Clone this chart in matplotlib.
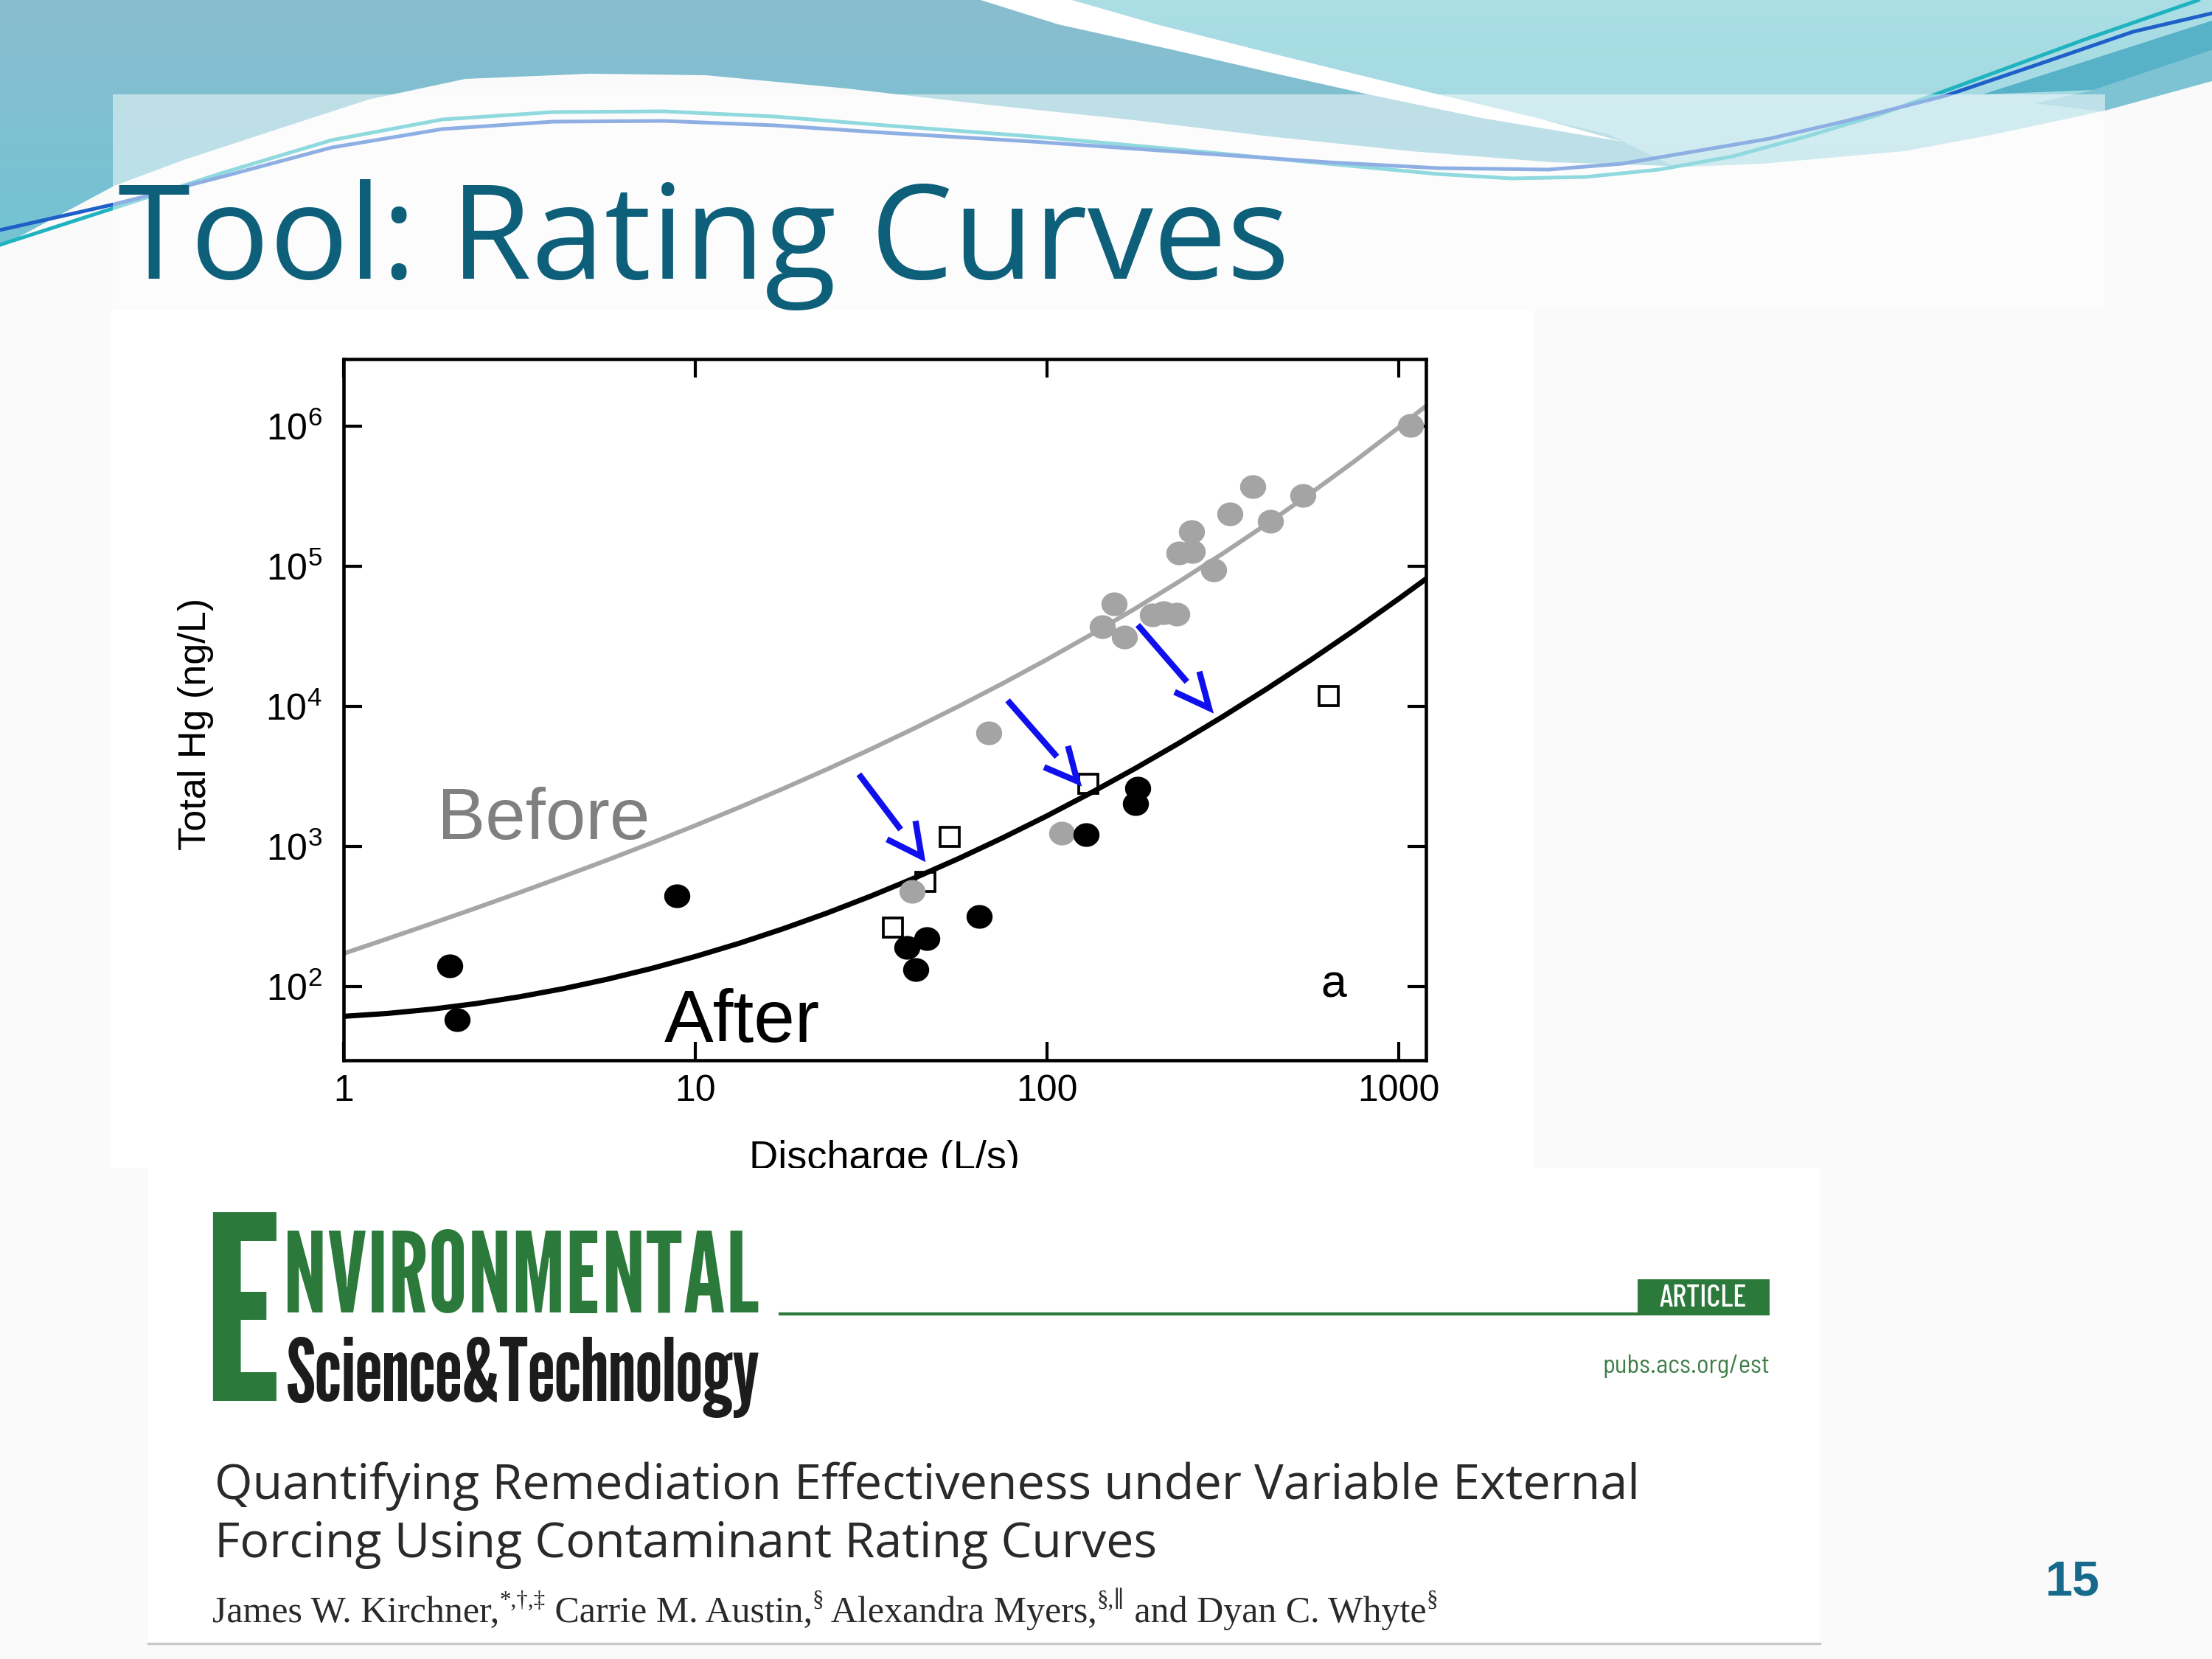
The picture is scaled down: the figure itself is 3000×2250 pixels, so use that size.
import numpy as np
import matplotlib
matplotlib.use("Agg")
import matplotlib.pyplot as plt
from matplotlib import font_manager
from matplotlib.font_manager import FontProperties
from matplotlib.textpath import TextPath
from matplotlib.patches import Polygon, Rectangle
from matplotlib.path import Path
from matplotlib.markers import MarkerStyle
from matplotlib.ticker import NullLocator, FixedLocator
from matplotlib.transforms import Bbox, TransformedBbox

plt.rcParams['font.family'] = ['Liberation Sans', 'DejaVu Sans']
plt.rcParams['mathtext.fontset'] = 'custom'
plt.rcParams['mathtext.rm'] = 'Liberation Sans'
plt.rcParams['mathtext.it'] = 'Liberation Sans:italic'
plt.rcParams['mathtext.bf'] = 'Liberation Sans:bold'

# ---------------- data ----------------
after_Q = [2.0, 2.1, 8.85, 40.0, 45.6, 42.3, 64.1, 129, 181, 179]
after_C = [141, 58, 443, 191, 220, 132, 318, 1217, 2612, 2028]

before_Q = [1080, 385, 535, 332, 433, 258, 237, 259, 298, 155, 144, 166,
            200, 215, 234, 68.4, 110, 41.3]
before_C = [1.02e6, 3.7e5, 3.22e5, 2.38e5, 2.1e5, 1.77e5, 1.25e5, 1.27e5,
            9.45e4, 5.43e4, 3.72e4, 3.12e4, 4.48e4, 4.64e4, 4.58e4, 6490,
            1251, 481]

open_Q = [36.4, 52.8, 45.2, 131, 632]
open_C = [264, 1170, 561, 2820, 11800]

# rating curves
curve_Q = [1, 1.3335, 1.7783, 2.3714, 3.1623, 4.2170, 5.6234, 7.4989, 10,
           13.335, 17.783, 23.714, 31.623, 42.170, 56.234, 74.989, 100,
           133.35, 177.83, 237.14, 316.23, 421.70, 562.34, 749.89, 1000, 1197]
before_curve_C = [172.2, 219.9, 281.8, 362.7, 469.5, 611.2, 801.3, 1059, 1413,
                  1902, 2589, 3564, 4969, 7019, 10058, 14630, 21630, 32520,
                  49770, 77620, 123400, 200400, 332300, 563500, 977700, 1396000]
after_curve_C = [61.38, 64.38, 69.02, 75.58, 84.62, 96.73, 112.96, 134.7, 164.1,
                 203.9, 259.0, 335.4, 443.6, 598.3, 823.2, 1156, 1655, 2417,
                 3599, 5464, 8458, 13340, 21440, 35110, 58580, 81370]

# blue arrows: shaft tail -> shaft end, head arm A -> tip -> arm B
arrow_tail_Q = [29.2, 77.3, 181.3]
arrow_tail_C = [3281, 11060, 38150]
arrow_end_Q = [38.4, 106.8, 250.2]
arrow_end_C = [1323, 4375, 14990]
arrow_armA_Q = [35.1, 98.2, 230.8]
arrow_armA_C = [1126, 3688, 12690]
arrow_tip_Q = [44.0, 122, 289.2]
arrow_tip_C = [847, 2927, 9750]
arrow_armB_Q = [42.3, 114.8, 271.3]
arrow_armB_C = [1524, 5224, 17750]

x_ticks = [1, 10, 100, 1000]
x_tick_labels = ['1', '10', '100', '1000']
y_ticks = [1e2, 1e3, 1e4, 1e5, 1e6]
y_tick_labels = [r'$\mathregular{10^{2}}$', r'$\mathregular{10^{3}}$',
                 r'$\mathregular{10^{4}}$', r'$\mathregular{10^{5}}$',
                 r'$\mathregular{10^{6}}$']

# ---------------- fonts ----------------
avail = {f.name for f in font_manager.fontManager.ttflist}


def pick(*names):
    for n in names:
        if n in avail:
            return [n, 'DejaVu Sans']
    return ['Liberation Sans', 'DejaVu Sans']


cond = pick('Barlow Condensed', 'Asap Condensed', 'Archivo Narrow')
semicond = pick('Barlow Semi Condensed', 'Asap Condensed', 'Archivo Narrow')
gothic = pick('League Gothic', 'Antonio', 'Oswald', 'Bebas Neue')
PX = 300 / 72.0


def ink_box(s, fam, weight='normal'):
    tp = TextPath((0, 0), s, size=100, prop=FontProperties(family=fam, weight=weight))
    return tp.get_extents()


# ---------------- figure ----------------
fig = plt.figure(figsize=(10, 7.5), dpi=300)
fig.patch.set_facecolor('white')
bg = fig.add_axes([0, 0, 1, 1], zorder=0)
bg.axis('off')

bg.add_patch(Rectangle((0, 0), 3000, 2250, color='#fafafa', zorder=0))

# header gradient
H = 470
t = np.linspace(0, 1, H)[:, None, None]
lt = np.array([137, 189, 207]) / 255
lb = np.array([106, 198, 213]) / 255
img = np.repeat(lt * (1 - t) + lb * t, 2, axis=1)
bg.imshow(img, extent=[0, 3000, H, 0], aspect='auto', zorder=1,
          interpolation='bilinear')

# lighter region right of the white swoosh
rt = np.array([171, 222, 229]) / 255
rb = np.array([150, 210, 222]) / 255
img2 = np.repeat(rt * (1 - t) + rb * t, 2, axis=1)
right_poly = Polygon([(1454, 0), (1569, 33), (1703, 67), (1837, 100), (1951, 128),
                      (2085, 160), (2181, 182), (2300, 240), (2300, 470),
                      (3000, 470), (3000, 0)], closed=True, transform=bg.transData)
im2 = bg.imshow(img2, extent=[0, 3000, H, 0], aspect='auto', zorder=2,
                interpolation='bilinear')
im2.set_clip_path(right_poly)

# white swoosh band
bg.add_patch(Polygon([(1330, 0), (1435, 33), (1588, 67), (1731, 100), (1856, 128),
                      (2009, 160), (2200, 192), (2085, 160), (1951, 128),
                      (1837, 100), (1703, 67), (1569, 33), (1454, 0)],
                     closed=True, color='white', lw=0, zorder=3))
# darker wedges at the right edge
bg.add_patch(Polygon([(2689, 128), (3000, 28), (3000, 68), (2840, 122)],
                     closed=True, color='#57b1c7', lw=0, zorder=3))
bg.add_patch(Polygon([(2760, 140), (2840, 122), (3000, 68), (3000, 112),
                      (2855, 152)], closed=True, color='#7dc3d3', lw=0, zorder=3))

# large white shape below header
bg.add_patch(Polygon([(0, 335), (155, 252), (249, 217), (383, 173), (500, 135),
                      (631, 107), (800, 100), (957, 102), (1148, 120), (1339, 142),
                      (1530, 162), (1722, 185), (1913, 205), (2104, 220),
                      (2295, 226), (2391, 222), (2583, 205), (2701, 183),
                      (2855, 150), (3000, 110), (3000, 2250), (0, 2250)],
                     closed=True, color='#fafafa', lw=0, zorder=4))

# ribbon lines
cy = [(0, 332), (155, 282), (300, 235), (450, 190), (600, 162), (750, 152),
      (900, 151), (1050, 158), (1200, 170), (1400, 185), (1600, 203),
      (1800, 222), (1950, 236), (2050, 242), (2150, 240), (2250, 230),
      (2350, 212), (2450, 185), (2550, 155), (2625, 128), (2701, 100),
      (2829, 53), (2982, 0)]
bl = [(0, 312), (155, 277), (300, 240), (450, 200), (600, 175), (750, 165),
      (900, 164), (1050, 170), (1200, 180), (1400, 192), (1600, 206),
      (1800, 220), (1950, 228), (2100, 230), (2200, 222), (2300, 205),
      (2400, 188), (2500, 165), (2638, 130), (2765, 87), (2893, 43), (3000, 18)]
bg.plot(*zip(*cy), color='#1fb3bf', lw=1.2, zorder=5, solid_capstyle='round',
        solid_joinstyle='round')
bg.plot(*zip(*bl), color='#1e5fc8', lw=1.2, zorder=5, solid_capstyle='round',
        solid_joinstyle='round')

# translucent title panel
bg.add_patch(Rectangle((153, 128), 2702, 292, color='white', alpha=0.5, lw=0,
                       zorder=6))

# white picture areas
bg.add_patch(Rectangle((150, 421), 1930, 1163, color='white', lw=0, zorder=7))
bg.add_patch(Rectangle((201, 1584), 2267, 645, color='white', lw=0, zorder=7))
bg.plot([201, 2468], [2229, 2229], color='#c8c8c8', lw=0.8, zorder=8)

bg.set_xlim(0, 3000)
bg.set_ylim(2250, 0)

renderer = fig.canvas.get_renderer()


def fit_width(txt, target):
    w = txt.get_window_extent(renderer).width
    txt.set_fontsize(txt.get_fontsize() * target / w)


# slide title
title = bg.text(160, 378, 'Tool: Rating Curves', family=['Open Sans', 'DejaVu Sans'],
                fontsize=44, color='#0d5f7a', ha='left', va='baseline', zorder=10)
fit_width(title, 1590)

# page number
bg.text(2811, 2146, '15', fontsize=16, fontweight='bold', color='#176a8b',
        ha='center', va='center', zorder=10)

# ---- journal header ----
green = '#2b7a3b'
bE = ink_box('E', gothic)
fsE = 256 / PX / (bE.height / 100)
sE = fsE / 100 * PX
Et = bg.text(288 - bE.x0 * sE, 1900 + bE.y0 * sE, 'E', fontsize=fsE, family=gothic,
             color=green, ha='left', va='baseline', zorder=10)
ex = max(288 + bE.width * sE + 6, Et.get_window_extent(renderer).x1 + 2)

b1 = ink_box('NVIRONMENTAL', gothic)
b2 = ink_box('Science&Technology', gothic)
bS = ink_box('S', gothic)
fs1 = min(136 / PX / (b1.height / 100), (1029 - ex) / PX / (b1.width / 100))
fs2 = min(96 / PX / (bS.height / 100), (1029 - ex) / PX / (b2.width / 100))
top1 = 1668
base2 = 1900
t1 = bg.text(0, 0, 'NVIRONMENTAL', family=gothic, color=green, ha='left',
             va='baseline', zorder=10)
t2 = bg.text(0, 0, 'Science&Technology', family=gothic, color='#1c1c1c',
             ha='left', va='baseline', zorder=10)
k = 1.0
while k > 0.7:
    s1 = fs1 * k / 100 * PX
    s2 = fs2 * k / 100 * PX
    t1.set_fontsize(fs1 * k)
    t1.set_position((ex - b1.x0 * s1, top1 + b1.y1 * s1))
    t2.set_fontsize(fs2 * k)
    t2.set_position((ex - b2.x0 * s2, base2))
    e1 = t1.get_window_extent(renderer)
    e2 = t2.get_window_extent(renderer)
    if e1.y0 >= e2.y1 + 2:
        break
    k -= 0.01

bg.plot([1058, 2221], [1782, 1782], color=green, lw=1.0, zorder=10)
bg.add_patch(Rectangle((2221, 1735), 179, 49, color=green, lw=0, zorder=10))
bg.text(2310, 1761, 'ARTICLE', fontsize=10, family=cond, fontweight=500,
        color='white', ha='center', va='center', zorder=11)
pub = bg.text(2400, 1862, 'pubs.acs.org/est', fontsize=9, family=semicond,
              color='#3d7d47', ha='right', va='baseline', zorder=10)
fit_width(pub, 227)

l1 = bg.text(291, 2033, 'Quantifying Remediation Effectiveness under Variable External',
             family=['Open Sans', 'DejaVu Sans'], fontsize=14, color='#2a2a2a',
             ha='left', va='baseline', zorder=10)
fit_width(l1, 1933)
bg.text(291, 2112, 'Forcing Using Contaminant Rating Curves',
        family=['Open Sans', 'DejaVu Sans'], fontsize=l1.get_fontsize(),
        color='#2a2a2a', ha='left', va='baseline', zorder=10)

parts = [("James W. Kirchner,", False), ("*,\u2020,\u2021", True),
         (" Carrie M. Austin,", False), ("\u00a7", True),
         (" Alexandra Myers,", False), ("\u00a7,\u2225", True),
         (" and Dyan C. Whyte", False), ("\u00a7", True)]
xx = 288.0
size = 12
for s, sup in parts:
    fs = size * 0.62 if sup else size
    yy = 2200 - (size * 0.42 * PX if sup else 0)
    tt = bg.text(xx, yy, s, fontsize=fs, family=['Liberation Serif', 'DejaVu Serif'],
                 color='#2a2a2a', ha='left', va='baseline', zorder=10)
    xx += tt.get_window_extent(renderer).width

# ---------------- chart ----------------
ax = fig.add_axes([466 / 3000, 1 - 1438 / 2250, 1468 / 3000, 950.5 / 2250], zorder=2)
ax.set_facecolor('white')
ax.set_xscale('log')
ax.set_yscale('log')

ax.plot(curve_Q, before_curve_C, color='#a6a6a6', lw=1.45, zorder=2)
ax.plot(curve_Q, after_curve_C, color='black', lw=1.7, zorder=2)

ax.plot(open_Q, open_C, ls='none', marker='s', ms=6.2, mfc='none', mec='black',
        mew=0.9, zorder=3)
th = np.linspace(0, 2 * np.pi, 72)
ell = MarkerStyle(Path(np.column_stack([1.1 * np.cos(th), np.sin(th)]), closed=True))
ax.plot(before_Q, before_C, ls='none', marker=ell, ms=8.5, mfc='#a4a4a4', mec='none',
        zorder=4)
ax.plot(after_Q, after_C, ls='none', marker=ell, ms=8.5, mfc='black', mec='none',
        zorder=5)

blue = '#1010ee'
for i in range(len(arrow_tail_Q)):
    ax.plot([arrow_tail_Q[i], arrow_end_Q[i]], [arrow_tail_C[i], arrow_end_C[i]],
            color=blue, lw=2.0, solid_capstyle='butt', zorder=6)
    ax.plot([arrow_armA_Q[i], arrow_tip_Q[i], arrow_armB_Q[i]],
            [arrow_armA_C[i], arrow_tip_C[i], arrow_armB_C[i]],
            color=blue, lw=2.0, solid_capstyle='butt', solid_joinstyle='miter',
            zorder=6)

ax.text(1.846, 1126, 'Before', fontsize=23.5, color='#808080', ha='left',
        va='baseline')
ax.text(8.15, 40.2, 'After', fontsize=24, color='black', ha='left', va='baseline')
ax.text(602, 83.5, 'a', fontsize=15, color='black', ha='left', va='baseline')

ax.set_xlim(1, 1197)
ax.set_ylim(29.8, 3.0e6)
ax.xaxis.set_major_locator(FixedLocator(x_ticks))
ax.yaxis.set_major_locator(FixedLocator(y_ticks))
ax.xaxis.set_minor_locator(NullLocator())
ax.yaxis.set_minor_locator(NullLocator())
ax.set_xticklabels(x_tick_labels)
ax.set_yticklabels(y_tick_labels)
ax.tick_params(which='major', direction='in', length=6, width=1.0, top=True,
               right=True, labelsize=12, colors='black')
ax.tick_params(axis='x', pad=4.5)
ax.tick_params(axis='y', pad=7)
for sp in ax.spines.values():
    sp.set_linewidth(1.1)

ax.set_xlabel('Discharge (L/s)', fontsize=13)
ax.xaxis.set_label_coords(0.5, -0.1136)
ax.set_ylabel('Total Hg (ng/L)', fontsize=12.5)
ax.yaxis.set_label_coords(-0.12, 0.48)
xl = ax.xaxis.label
xl.set_clip_on(True)
xl.set_clip_box(TransformedBbox(Bbox([[0, 1 - 1584 / 2250], [1, 1]]), fig.transFigure))

fig.savefig('out.png', dpi=300)
